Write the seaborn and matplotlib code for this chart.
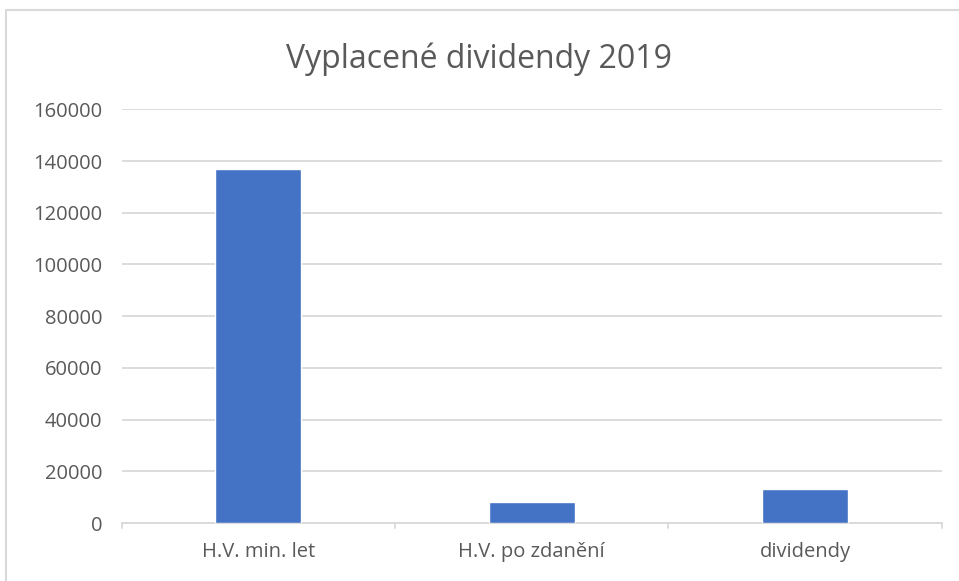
import matplotlib
matplotlib.use("Agg")
import matplotlib.pyplot as plt
import seaborn as sns
import pandas as pd
from matplotlib.patches import Rectangle

categories = ["H.V. min. let", "H.V. po zdanění", "dividendy"]
values = [136800, 8000, 13000]
yticks = [0, 20000, 40000, 60000, 80000, 100000, 120000, 140000, 160000]
title = "Vyplacené dividendy 2019"

df = pd.DataFrame({"kategorie": categories, "hodnota": values})

sns.set_style("white")
plt.rcParams["font.family"] = ["Open Sans", "DejaVu Sans"]

text_color = "#595959"
grid_color = "#D9D9D9"

fig = plt.figure(figsize=(9.59, 5.81), dpi=100)
ax = fig.add_axes([0.127, 0.0998, 0.855, 0.712])

sns.barplot(
    data=df,
    x="kategorie",
    y="hodnota",
    color="#4472C4",
    width=0.315,
    saturation=1,
    ax=ax,
    zorder=3
)

ax.set_ylim(0, 160000)
ax.set_xlim(-0.5, 2.5)
ax.set_yticks(yticks)
ax.set_yticklabels([str(t) for t in yticks])
ax.yaxis.grid(True, color=grid_color, linewidth=1.3, zorder=0)
ax.set_xlabel("")
ax.set_ylabel("")

for side in ["top", "right", "left"]:
    ax.spines[side].set_visible(False)
ax.spines["bottom"].set_color(grid_color)
ax.spines["bottom"].set_linewidth(1.3)

ax.tick_params(axis="y", length=0, pad=14, labelsize=14.5, labelcolor=text_color)
ax.tick_params(axis="x", length=0, pad=14, labelsize=14.5, labelcolor=text_color)

# category boundary tick marks below the axis
for xb in [-0.5, 0.5, 1.5, 2.5]:
    ax.plot([xb, xb], [0, -0.012], transform=ax.get_xaxis_transform(),
            color=grid_color, linewidth=1.3, clip_on=False)

fig.text(0.5, 0.898, title, ha="center", va="center",
         fontsize=23, color=text_color)

fig.patches.append(Rectangle((0.006, -0.01), 1.2, 0.993, transform=fig.transFigure,
                             fill=False, edgecolor="#D9D9D9", linewidth=1.5))

fig.savefig("out.png", dpi=100)
plt.close(fig)
